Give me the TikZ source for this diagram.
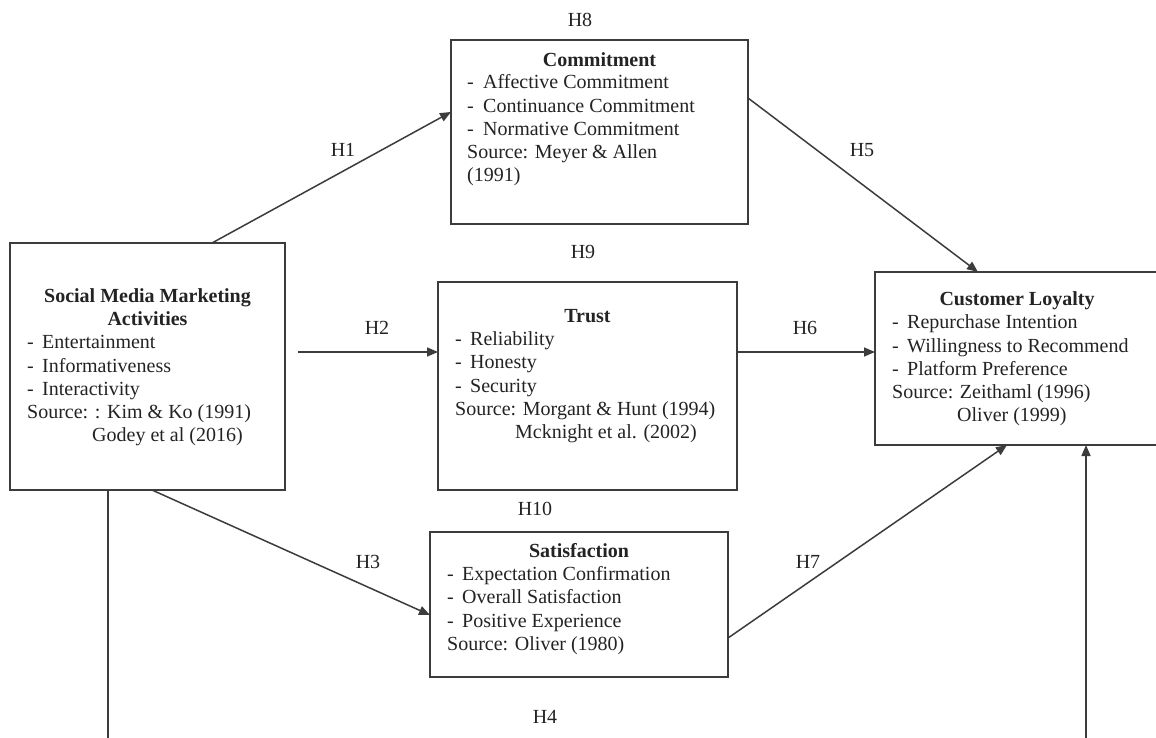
\documentclass[tikz,border=0pt]{standalone}
\usepackage{fontspec}
\setmainfont{Liberation Serif}
\usetikzlibrary{arrows.meta}
\definecolor{linec}{RGB}{60,60,60}
\definecolor{textc}{RGB}{35,35,35}
\tikzset{
  box/.style={draw=linec, line width=1.6pt, inner sep=0pt, outer sep=0pt},
  txt/.style={inner sep=0pt, anchor=base west, text=textc, font=\fontsize{20}{24}\selectfont},
  head/.style={inner sep=0pt, anchor=base, text=textc, font=\fontsize{20}{24}\selectfont\bfseries},
  hlab/.style={inner sep=0pt, anchor=center, text=textc, font=\fontsize{20}{24}\selectfont},
  arr/.style={draw=linec, line width=1.5pt, -{Triangle[length=11pt,width=9pt]}},
  plainline/.style={draw=linec, line width=1.5pt},
}
\begin{document}
\begin{tikzpicture}[x=1pt,y=-1pt]
\clip (0,0) rectangle (1156,738);
\fill[white] (0,0) rectangle (1156,738);

% boxes
\node[box, minimum width=275pt, minimum height=247pt] (smma) at (147.5,366.5) {};
\node[box, minimum width=297pt, minimum height=184pt] (commit) at (599.5,132) {};
\node[box, minimum width=299pt, minimum height=208pt] (trust) at (587.5,386) {};
\node[box, minimum width=298pt, minimum height=145pt] (satis) at (579,604.5) {};
\node[box, minimum width=285pt, minimum height=173pt] (loyal) at (1017.5,358.5) {};

% SMMA text
\node[head] (smmaH1) at (147.5,302) {Social Media Marketing};
\node[head] (smmaH2) at (147.5,325) {Activities};
\node[txt] (smmaD1) at (27,348) {-};
\node[txt] (smmaT1) at (42,348) {Entertainment};
\node[txt] (smmaD2) at (27,372) {-};
\node[txt] (smmaT2) at (42,372) {Informativeness};
\node[txt] (smmaD3) at (27,395) {-};
\node[txt] (smmaT3) at (42,395) {Interactivity};
\node[txt] (smmaS1) at (27,418) {Source: : Kim \& Ko (1991)};
\node[txt] (smmaS2) at (92,441) {Godey et al (2016)};

% Commitment text
\node[head] (comH) at (599.5,67) {Commitment};
\node[txt] (comD1) at (467,89) {-};
\node[txt] (comT1) at (483,89) {Affective Commitment};
\node[txt] (comD2) at (467,113) {-};
\node[txt] (comT2) at (483,113) {Continuance Commitment};
\node[txt] (comD3) at (467,136) {-};
\node[txt] (comT3) at (483,136) {Normative Commitment};
\node[txt] (comS1) at (467,159) {Source: Meyer \& Allen};
\node[txt] (comS2) at (467,182) {(1991)};

% Trust text
\node[head] (truH) at (587.5,322) {Trust};
\node[txt] (truD1) at (455,345) {-};
\node[txt] (truT1) at (470,345) {Reliability};
\node[txt] (truD2) at (455,368) {-};
\node[txt] (truT2) at (470,368) {Honesty};
\node[txt] (truD3) at (455,392) {-};
\node[txt] (truT3) at (470,392) {Security};
\node[txt] (truS1) at (455,415) {Source: Morgant \& Hunt (1994)};
\node[txt] (truS2) at (515,438) {Mcknight et al. (2002)};

% Satisfaction text
\node[head] (satH) at (579,557) {Satisfaction};
\node[txt] (satD1) at (447,580) {-};
\node[txt] (satT1) at (462,580) {Expectation Confirmation};
\node[txt] (satD2) at (447,603) {-};
\node[txt] (satT2) at (462,603) {Overall Satisfaction};
\node[txt] (satD3) at (447,627) {-};
\node[txt] (satT3) at (462,627) {Positive Experience};
\node[txt] (satS1) at (447,650) {Source: Oliver (1980)};

% Customer Loyalty text
\node[head] (loyH) at (1017,305) {Customer Loyalty};
\node[txt] (loyD1) at (892,328) {-};
\node[txt] (loyT1) at (907,328) {Repurchase Intention};
\node[txt] (loyD2) at (892,352) {-};
\node[txt] (loyT2) at (907,352) {Willingness to Recommend};
\node[txt] (loyD3) at (892,375) {-};
\node[txt] (loyT3) at (907,375) {Platform Preference};
\node[txt] (loyS1) at (892,398) {Source: Zeithaml (1996)};
\node[txt] (loyS2) at (957,421) {Oliver (1999)};

% connectors
\draw[arr] ([xshift=64.5pt]smma.north) -- ([yshift=20pt]commit.west);
\draw[arr] ([yshift=34pt]commit.east) -- ([xshift=-39.5pt]loyal.north);
\coordinate (h2s) at (298,352);
\draw[arr] (h2s) -- (trust.west |- h2s);
\draw[arr] ([yshift=34pt]trust.east) coordinate (h6s) -- (loyal.west |- h6s);
\draw[arr] ([xshift=4.5pt]smma.south) -- ([yshift=-10.5pt]satis.west);
\draw[arr] ([yshift=-33.5pt]satis.east) -- ([xshift=-10.5pt]loyal.south);
\coordinate (h4l) at (108,745);
\coordinate (h4r) at (1086,745);
\draw[plainline] ([xshift=-39.5pt]smma.south) -- (h4l);
\draw[arr] (h4r) -- ([xshift=68.5pt]loyal.south);

% hypothesis labels
\node[hlab] (H8) at (580,20) {H8};
\node[hlab] (H1) at (343,150) {H1};
\node[hlab] (H5) at (862,150) {H5};
\node[hlab] (H9) at (583,252) {H9};
\node[hlab] (H2) at (377,328) {H2};
\node[hlab] (H6) at (805,328) {H6};
\node[hlab] (H10) at (535,509) {H10};
\node[hlab] (H3) at (368,562) {H3};
\node[hlab] (H7) at (808,562) {H7};
\node[hlab] (H4) at (545,717) {H4};
\end{tikzpicture}
\end{document}
